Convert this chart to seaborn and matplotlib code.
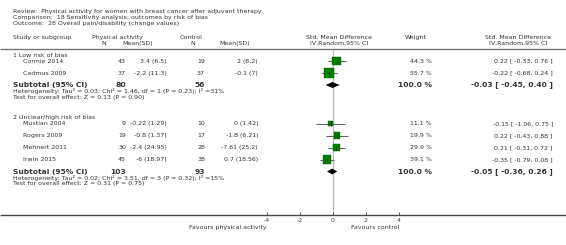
import numpy as np
import pandas as pd
import matplotlib.pyplot as plt
import seaborn as sns

# header texts
review = "Physical activity for women with breast cancer after adjuvant therapy"
comparison = "18 Sensitivity analysis: outcomes by risk of bias"
outcome = "28 Overall pain/disability (change values)"

# data per subgroup
groups = ["1 Low risk of bias", "2 Unclear/high risk of bias"]
studies = [["Cormie 2014", "Cadmus 2009"],
           ["Mustian 2004", "Rogers 2009", "Mehnert 2011", "Irwin 2015"]]
pa_n = [[43, 37], [9, 19, 30, 45]]
pa_mean_sd = [["3.4 (6.5)", "-2.2 (11.3)"],
              ["-0.22 (1.29)", "-0.8 (1.37)", "-2.4 (24.95)", "-6 (18.97)"]]
ctrl_n = [[19, 37], [10, 17, 28, 38]]
ctrl_mean_sd = [["2 (6.2)", "-0.1 (7)"],
                ["0 (1.42)", "-1.8 (6.21)", "-7.61 (25.2)", "0.7 (18.56)"]]
weights = [[44.3, 55.7], [11.1, 19.9, 29.9, 39.1]]
smd = [[0.22, -0.22], [-0.15, 0.22, 0.21, -0.35]]
ci_low = [[-0.33, -0.68], [-1.06, -0.43, -0.31, -0.79]]
ci_high = [[0.76, 0.24], [0.75, 0.88, 0.72, 0.08]]

sub_pa_n = [80, 103]
sub_ctrl_n = [56, 93]
sub_smd = [-0.03, -0.05]
sub_low = [-0.45, -0.36]
sub_high = [0.40, 0.26]
heterogeneity = ["Tau\u00b2 = 0.03; Chi\u00b2 = 1.46, df = 1 (P = 0.23); I\u00b2 =31%",
                 "Tau\u00b2 = 0.02; Chi\u00b2 = 3.51, df = 3 (P = 0.32); I\u00b2 =15%"]
overall = ["Z = 0.13 (P = 0.90)", "Z = 0.31 (P = 0.75)"]
xticks = [-4, -2, 0, 2, 4]

sns.set_theme(style="white")
plt.rcParams["font.family"] = ["DejaVu Sans"]

W, H = 566, 245
FS = 4.5
FSB = 5.4
TXT = "#333333"

fig = plt.figure(figsize=(W / 100, H / 100), dpi=100)

# pixel-space axes for the table text
tab = fig.add_axes([0, 0, 1, 1])
tab.set_xlim(0, W)
tab.set_ylim(H, 0)
tab.axis("off")

# forest axes: -4..4 spans pixel 267..399, bottom axis at pixel 215
AX_Y = 215
fx0, fx1 = 267, 399
fst = fig.add_axes([fx0 / W, (H - AX_Y) / H, (fx1 - fx0) / W, AX_Y / H])
fst.set_xlim(-4, 4)
fst.set_ylim(AX_Y, 0)
fst.patch.set_alpha(0)
for s in fst.spines.values():
    s.set_visible(False)
fst.set_yticks([])
fst.set_xticks(xticks)
fst.set_xticklabels([str(v) for v in xticks])
fst.tick_params(axis="x", direction="in", length=2.5, width=0.6, pad=2.5,
                labelsize=FS, colors="#444444", bottom=True)


def t(x, y, s, ha="left", bold=False, size=None):
    tab.text(x, y, s, ha=ha, va="center", color=TXT,
             fontsize=size or (FSB if bold else FS),
             fontweight="bold" if bold else "normal")


# header
t(13, 11, "Review:  " + review)
t(13, 17.5, "Comparison:  " + comparison)
t(13, 23.5, "Outcome:  " + outcome)

t(13, 38, "Study or subgroup")
t(92, 37.5, "Physical activity")
t(104, 43.5, "N", ha="center")
t(153, 43.5, "Mean(SD)", ha="right")
t(180, 37.5, "Control")
t(193, 43.5, "N", ha="center")
t(250, 43.5, "Mean(SD)", ha="right")
t(339, 37.5, "Std. Mean Difference", ha="center")
t(339, 43.5, "IV,Random,95% CI", ha="center")
t(405, 38, "Weight")
t(518, 37.5, "Std. Mean Difference", ha="center")
t(518, 43.5, "IV,Random,95% CI", ha="center")

tab.hlines(49, 0, W, color="#777777", lw=1)
tab.hlines(AX_Y, 0, W, color="#444444", lw=1)
fst.vlines(0, 50, AX_Y, color="#bbbbbb", lw=0.9, zorder=0)

rows = []
y = 55
for g in range(len(groups)):
    t(13, y, groups[g])
    y += 6
    for i, name in enumerate(studies[g]):
        t(23, y, name)
        t(126, y, str(pa_n[g][i]), ha="right")
        t(167, y, pa_mean_sd[g][i], ha="right")
        t(205, y, str(ctrl_n[g][i]), ha="right")
        t(258, y, ctrl_mean_sd[g][i], ha="right")
        t(432, y, f"{weights[g][i]:.1f} %", ha="right")
        t(553, y, f"{smd[g][i]:.2f} [ {ci_low[g][i]:.2f}, {ci_high[g][i]:.2f} ]", ha="right")
        rows.append(dict(y=y, smd=smd[g][i], lo=ci_low[g][i], hi=ci_high[g][i],
                         weight=weights[g][i]))
        y += 12
    # subtotal
    t(13, y, "Subtotal (95% CI)", bold=True)
    t(126, y, str(sub_pa_n[g]), ha="right", bold=True)
    t(205, y, str(sub_ctrl_n[g]), ha="right", bold=True)
    t(432, y, "100.0 %", ha="right", bold=True)
    t(553, y, f"{sub_smd[g]:.2f} [ {sub_low[g]:.2f}, {sub_high[g]:.2f} ]", ha="right", bold=True)
    fst.fill([sub_low[g], sub_smd[g], sub_high[g], sub_smd[g]],
             [y, y - 3, y, y + 3], color="black", lw=0, zorder=3)
    y += 6
    t(13, y, "Heterogeneity: " + heterogeneity[g])
    y += 6
    t(13, y, "Test for overall effect: " + overall[g])
    y += 20.5

df = pd.DataFrame(rows)
fst.hlines(df["y"], df["lo"], df["hi"], color="#666666", lw=0.8, zorder=1)
sns.scatterplot(data=df, x="smd", y="y", size="weight", size_norm=(0, 100),
                sizes=(0, 94), marker="s", color="#008000", edgecolor="#006000",
                linewidth=0.3, legend=False, ax=fst, zorder=2)
fst.plot(df["smd"], df["y"], ls="none", marker="|", ms=3, mew=0.6,
         color="#222222", zorder=4)
fst.set_xlabel("")
fst.set_ylabel("")
fst.set_xlim(-4, 4)
fst.set_ylim(AX_Y, 0)

t(267, 227, "Favours physical activity", ha="right")
t(399, 227, "Favours control", ha="right")

fig.savefig("out.png", dpi=100)
